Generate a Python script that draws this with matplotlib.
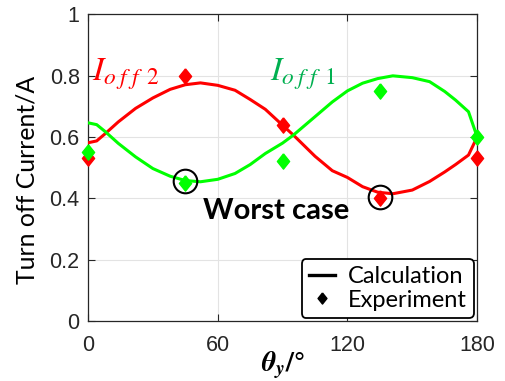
import matplotlib
matplotlib.use("Agg")
import matplotlib.pyplot as plt
from matplotlib.lines import Line2D

# Calculated turn-off current vs. rotation angle
calc_theta = [0, 4, 8, 14, 22, 30, 38, 45, 52, 60, 68, 75, 82, 90, 95, 105,
              113, 120, 127, 134, 141, 150, 158, 165, 170, 176, 180]
calc_ioff2 = [0.581, 0.587, 0.611, 0.649, 0.693, 0.727, 0.755, 0.770, 0.776,
              0.768, 0.752, 0.722, 0.690, 0.638, 0.606, 0.537, 0.490, 0.468,
              0.438, 0.420, 0.415, 0.427, 0.455, 0.486, 0.510, 0.541, 0.600]
calc_ioff1 = [0.646, 0.640, 0.617, 0.579, 0.535, 0.497, 0.472, 0.458, 0.454,
              0.462, 0.481, 0.510, 0.546, 0.580, 0.606, 0.666, 0.714, 0.750,
              0.775, 0.790, 0.799, 0.793, 0.780, 0.748, 0.720, 0.682, 0.600]

# Measured points
exp_theta = [0, 45, 90, 135, 180]
exp_ioff2 = [0.53, 0.80, 0.64, 0.40, 0.53]
exp_ioff1 = [0.55, 0.45, 0.52, 0.75, 0.60]

# Worst-case operating points
worst_theta = [45, 135]
worst_val = [0.455, 0.405]

x_ticks = [0, 60, 120, 180]
y_ticks = [0, 0.2, 0.4, 0.6, 0.8, 1]
y_ticklabels = ["0", "0.2", "0.4", "0.6", "0.8", "1"]

RED = "#ff0000"
GREEN = "#00ff00"
GREEN_TXT = "#00b050"
AXC = "#262626"

# slightly tall diamond
DIAMOND = [(0, 1), (0.8, 0), (0, -1), (-0.8, 0), (0, 1)]

plt.rcParams["mathtext.fontset"] = "stix"

fig = plt.figure(figsize=(5.06, 3.81), dpi=100)
ax = fig.add_axes([0.174, 0.157, 0.769, 0.806])

ax.plot(calc_theta, calc_ioff2, color=RED, lw=2.2, zorder=3)
ax.plot(calc_theta, calc_ioff1, color=GREEN, lw=2.2, zorder=3)
ax.plot(exp_theta, exp_ioff2, ls="none", marker=DIAMOND, color=RED, ms=11,
        zorder=4, clip_on=False)
ax.plot(exp_theta, exp_ioff1, ls="none", marker=DIAMOND, color=GREEN, ms=11,
        zorder=4, clip_on=False)
ax.plot(worst_theta, worst_val, "o", mfc="none", mec="black", mew=1.5,
        ms=17, zorder=5)

ax.set_xlim(0, 180)
ax.set_ylim(0, 1)
ax.set_xticks(x_ticks)
ax.set_yticks(y_ticks)
ax.set_yticklabels(y_ticklabels)
ax.grid(True, color="#e3e3e3", lw=0.8)
ax.set_axisbelow(True)
ax.tick_params(direction="in", top=True, right=True, length=5, width=0.8,
               colors=AXC, labelsize=15.5)
ax.tick_params(axis="y", pad=6)
ax.tick_params(axis="x", pad=10)
for lab in ax.get_xticklabels() + ax.get_yticklabels():
    lab.set_family("Liberation Sans")
for sp in ax.spines.values():
    sp.set_color(AXC)
    sp.set_linewidth(0.9)

ax.set_ylabel("Turn off Current/A", family="Lato", fontsize=17.8,
              color="black")
ax.yaxis.set_label_coords(-0.128, 0.46)
ax.set_xlabel(r"$\mathbfit{\theta_{y}}\mathbf{/°}$", fontsize=20,
              color="black", labelpad=-5)

sub2 = r"$I_{o\hspace{0.25}f\hspace{0.35}f\hspace{0.5}2}$"
sub1 = r"$I_{o\hspace{0.25}f\hspace{0.35}f\hspace{0.5}1}$"
ax.text(2.0, 0.785, sub2, color=RED, fontsize=24, va="baseline", ha="left")
ax.text(84.2, 0.785, sub1, color=GREEN_TXT, fontsize=24, va="baseline",
        ha="left")
ax.text(87, 0.36, "Worst case", family="Lato", fontweight="bold",
        fontsize=21, ha="center", va="center", color="black")

handles = [Line2D([], [], color="black", lw=2.4),
           Line2D([], [], color="black", marker=DIAMOND, ls="none", ms=8)]
leg = ax.legend(handles, ["Calculation", "Experiment"], loc="lower right",
                prop={"family": "Lato", "size": 17}, frameon=True,
                fancybox=True, edgecolor="black", framealpha=1,
                borderaxespad=0.15, handlelength=1.1, handletextpad=0.55,
                borderpad=0.3, labelspacing=0.1)
leg.get_frame().set_linewidth(1.3)

fig.savefig("out.png", dpi=100)
